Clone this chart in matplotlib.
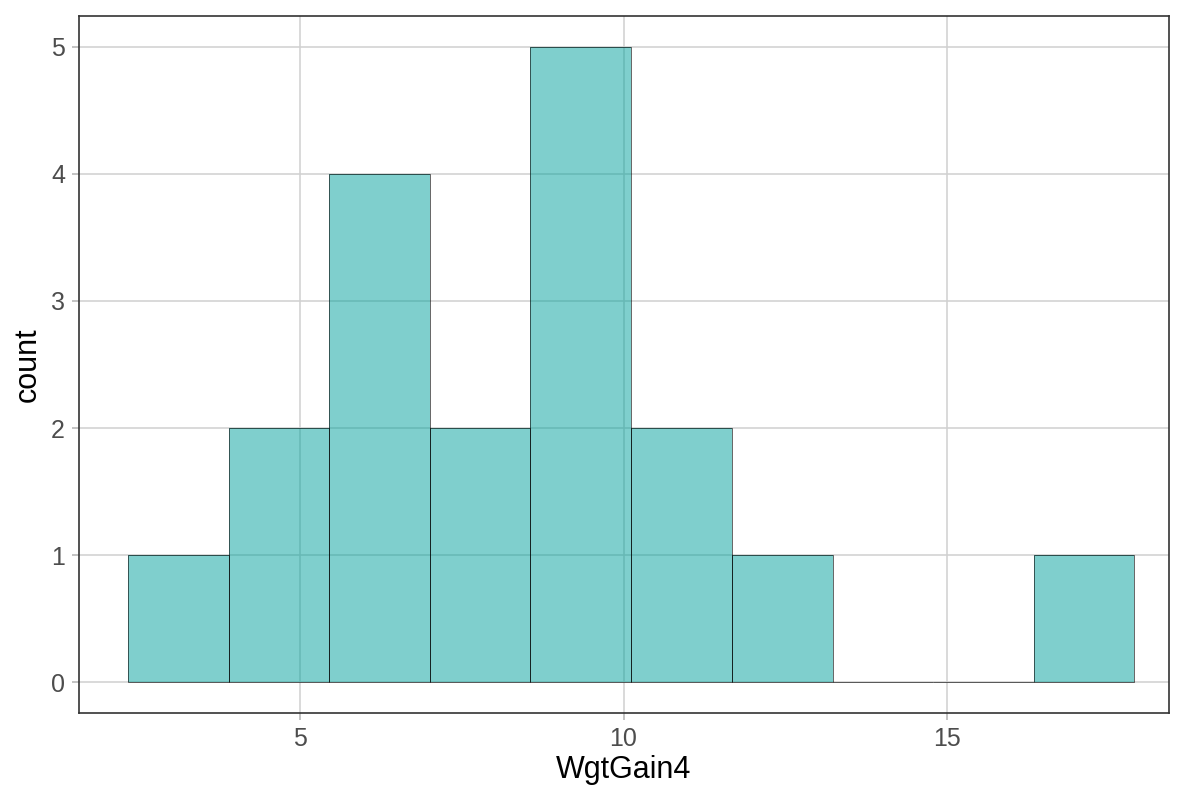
import numpy as np
import matplotlib
matplotlib.use('Agg')
import matplotlib.pyplot as plt

# Histogram of WgtGain4 (bin edges and counts)
bin_edges = [2.34, 3.90, 5.45, 7.01, 8.56, 10.12, 11.67, 13.23, 14.78, 16.34, 17.89]
counts = [1, 2, 4, 2, 5, 2, 1, 0, 0, 1]
x_ticks = [5, 10, 15]
y_ticks = [0, 1, 2, 3, 4, 5]

plt.rcParams['font.family'] = ['Liberation Sans', 'DejaVu Sans']

fig = plt.figure(figsize=(12, 8), dpi=100)
ax = fig.add_axes([79 / 1200, 87 / 800, 1090 / 1200, 697 / 800])

# Grid underneath the bars
ax.set_axisbelow(True)
ax.grid(True, color='#d0d0d0', linewidth=1.1)

edges = np.array(bin_edges)
ax.bar(edges[:-1], counts, width=np.diff(edges), align='edge',
       color='#00a19c', alpha=0.5, edgecolor='none')
ax.bar(edges[:-1], counts, width=np.diff(edges), align='edge',
       facecolor='none', edgecolor=(0, 0, 0, 0.7), linewidth=0.6)

ax.set_xlim(1.584, 18.43)
ax.set_ylim(-0.244, 5.244)
ax.set_xticks(x_ticks)
ax.set_yticks(y_ticks)

for s in ax.spines.values():
    s.set_color('#333333')
    s.set_linewidth(1.2)

ax.tick_params(axis='both', colors='#b3b3b3', length=5, width=1.1,
               labelsize=18, labelcolor='#4d4d4d', pad=5)

ax.set_xlabel('WgtGain4', fontsize=22, color='black', labelpad=3)
ax.set_ylabel('count', fontsize=22, color='black', labelpad=6)

fig.savefig('out.png', dpi=100)
